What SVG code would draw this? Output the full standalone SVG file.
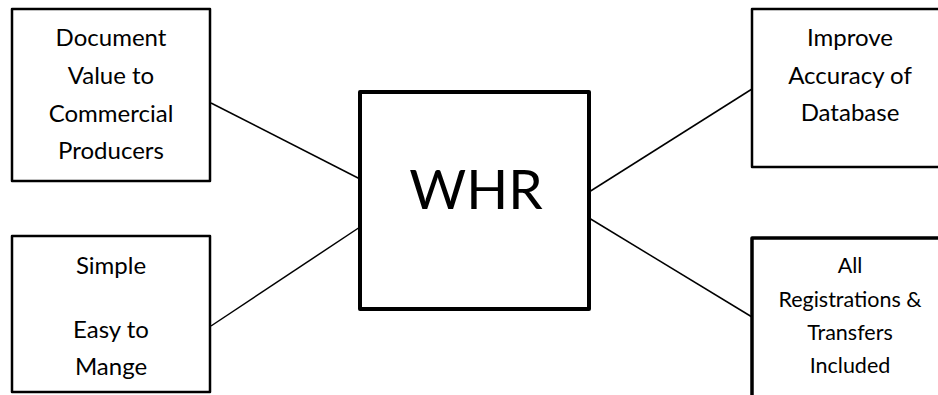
<svg xmlns="http://www.w3.org/2000/svg" width="938" height="395" viewBox="0 0 938 395">
<style>
.box{fill:#fff;stroke:#000;stroke-linejoin:round}
.t{font-family:Lato,"Open Sans",sans-serif;fill:#000;text-anchor:middle}
.c{stroke:#000;stroke-width:1.5;fill:none}
</style>
<rect width="938" height="395" fill="#fff"/>
<g id="connectors">
<line class="c" x1="211" y1="103" x2="360" y2="179"/>
<line class="c" x1="211" y1="326" x2="360" y2="227"/>
<line class="c" x1="589" y1="192" x2="752" y2="89"/>
<line class="c" x1="589" y1="218" x2="752" y2="317"/>
</g>
<g id="doc">
<rect class="box" x="12" y="9" width="198" height="172" stroke-width="2.5"/>
<text class="t" font-size="24" x="111" y="46">Document</text>
<text class="t" font-size="24" x="111" y="84">Value to</text>
<text class="t" font-size="24" x="111" y="122">Commercial</text>
<text class="t" font-size="24" x="111" y="159">Producers</text>
</g>
<g id="simple">
<rect class="box" x="12" y="236" width="198" height="156" stroke-width="2.5"/>
<text class="t" font-size="24" x="111" y="274">Simple</text>
<text class="t" font-size="24" x="111" y="338">Easy to</text>
<text class="t" font-size="24" x="111" y="375">Mange</text>
</g>
<g id="whr">
<rect class="box" x="360" y="92" width="229" height="217" stroke-width="4"/>
<text class="t" font-size="55" x="476" y="209">WHR</text>
</g>
<g id="improve">
<rect class="box" x="752" y="9" width="200" height="158" stroke-width="2.5"/>
<text class="t" font-size="24" x="850" y="46">Improve</text>
<text class="t" font-size="24" x="850" y="84">Accuracy of</text>
<text class="t" font-size="24" x="850" y="121">Database</text>
</g>
<g id="all">
<rect class="box" x="752" y="238" width="200" height="170" stroke-width="3.5"/>
<text class="t" font-size="21.5" x="850" y="273">All</text>
<text class="t" font-size="21.5" x="850" y="307">Registrations &amp;</text>
<text class="t" font-size="21.5" x="850" y="340">Transfers</text>
<text class="t" font-size="21.5" x="850" y="373">Included</text>
</g>
</svg>
